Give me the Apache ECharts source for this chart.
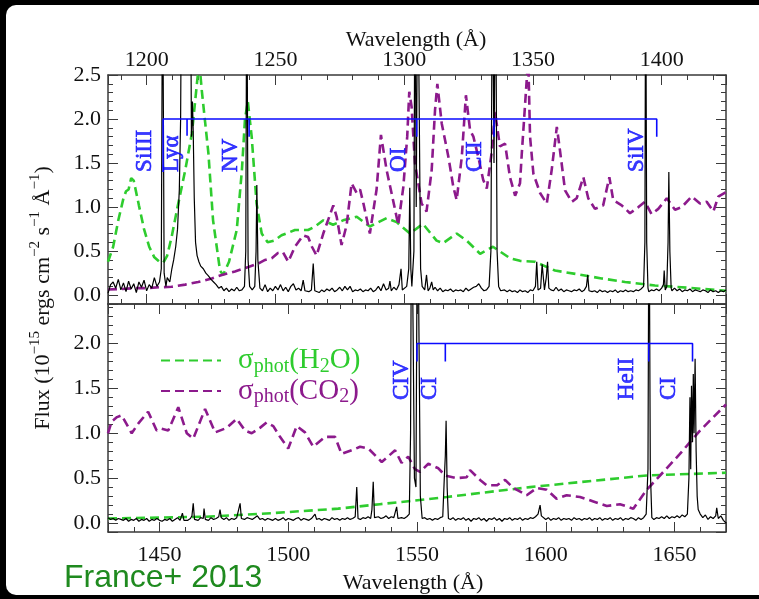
<!DOCTYPE html>
<html><head><meta charset="utf-8">
<script src="https://cdn.jsdelivr.net/npm/echarts@6/dist/echarts.min.js"></script>
<style>
html,body{margin:0;padding:0;background:#000;width:759px;height:599px;overflow:hidden}
#bg{position:absolute;left:6px;top:5px;width:753px;height:590px;background:#fff;border-radius:10px 0 0 10px}
#c{position:absolute;left:0;top:0;width:759px;height:599px}
</style></head><body><div id="bg"></div><div id="c"></div>
<script>
// ---------- axis ranges ----------
const upperX = [1185, 1425];
const lowerX = [1430, 1670];
const upperY = [-0.1, 2.5];
const lowerY = [-0.1, 2.44];

// ---------- upper panel: observed flux (wavelength, flux) ----------
const fluxUpper = [
[1185,0.02],[1186,0.12],[1187,0.15],[1188,0.08],[1189,0.18],[1190,0.06],[1191,0.14],[1192,0.04],[1193,0.16],[1194,0.07],
[1195,0.13],[1196,0.03],[1197,0.15],[1198,0.09],[1199,0.17],[1200,0.05],[1201,0.12],[1202,0.08],[1203,0.2],[1204,0.1],
[1205,0.15],[1205.7,0.3],[1206.2,4],[1206.8,0.25],[1207.5,0.1],[1208,0.2],[1209,0.15],[1209.8,0.3],[1210.5,0.4],[1211.3,0.55],
[1212,0.75],[1212.7,1.2],[1213.2,2.0],[1213.6,4],[1214.5,6],[1216,6],[1217.0,4],[1217.4,1.8],[1217.8,2.2],[1218.1,1.85],
[1218.5,1.1],[1219,0.6],[1219.6,0.45],[1220.3,0.38],[1221,0.33],[1222,0.3],[1223,0.25],[1224,0.22],[1225,0.18],[1226,0.15],
[1227,0.12],[1228,0.08],[1229,0.1],[1230,0.05],[1231,0.08],[1232,0.04],[1233,0.07],[1234,0.05],[1235,0.09],[1236,0.05],
[1237,0.06],[1238,0.1],[1238.5,0.5],[1238.9,4],[1239.4,0.4],[1240,0.1],[1241,0.06],[1242,0.1],[1242.5,0.5],[1242.8,1.25],
[1243.2,0.4],[1244,0.08],[1245,0.05],[1246,0.12],[1247,0.04],[1248,0.08],[1249,0.05],[1250,0.1],[1251,0.06],[1252,0.12],
[1253,0.05],[1254,0.09],[1255,0.04],[1256,0.1],[1257,0.13],[1258,0.06],[1259,0.08],[1260,0.05],[1260.8,0.17],[1261.5,0.05],
[1262,0.07],[1263,0.04],[1264,0.06],[1264.7,0.36],[1265.3,0.05],[1266,0.07],[1267,0.03],[1268,0.06],[1269,0.04],[1270,0.07],
[1271,0.05],[1272,0.08],[1273,0.04],[1274,0.06],[1275,0.09],[1276,0.05],[1277,0.1],[1278,0.06],[1279,0.1],[1280,0.04],
[1281,0.06],[1282,0.05],[1283,0.07],[1284,0.04],[1285,0.06],[1286,0.05],[1287,0.08],[1288,0.04],[1289,0.06],[1290,0.1],
[1291,0.05],[1292,0.13],[1293,0.06],[1294,0.08],[1294.5,0.16],[1295,0.05],[1296,0.09],[1297,0.06],[1298,0.12],[1298.8,0.3],
[1299.3,0.06],[1300,0.08],[1301,0.1],[1301.8,0.3],[1302.2,1.22],[1302.6,0.3],[1303,0.1],[1303.8,0.5],[1304.2,4],[1304.7,1],
[1305.3,4],[1305.9,4],[1306.4,0.3],[1307,0.1],[1308,0.06],[1308.7,0.23],[1309.3,0.05],[1310,0.08],[1310.7,0.15],[1311.3,0.06],
[1312,0.09],[1313,0.05],[1314,0.08],[1315,0.04],[1316,0.06],[1317,0.05],[1318,0.07],[1319,0.04],[1320,0.06],[1321,0.05],
[1322,0.06],[1323,0.04],[1324,0.08],[1325,0.05],[1326,0.07],[1327,0.09],[1328,0.1],[1329,0.13],[1330,0.08],[1331,0.05],
[1332,0.06],[1333,0.1],[1333.7,0.5],[1334.3,4],[1334.9,1.5],[1335.5,4],[1336.1,0.5],[1336.7,0.1],[1337.5,0.05],[1338,0.03],
[1339,0.06],[1340,0.04],[1341,0.06],[1342,0.04],[1343,0.05],[1344,0.03],[1345,0.06],[1346,0.04],[1347,0.05],[1348,0.03],
[1349,0.06],[1350,0.05],[1351,0.1],[1351.5,0.38],[1352,0.06],[1353,0.08],[1353.6,0.35],[1354,0.37],[1354.5,0.06],[1355.2,0.2],
[1355.7,0.38],[1356.2,0.08],[1357,0.06],[1358,0.05],[1359,0.09],[1360,0.05],[1361,0.07],[1362,0.04],[1363,0.06],[1364,0.05],
[1365,0.04],[1366,0.06],[1367,0.05],[1368,0.07],[1369,0.04],[1370,0.06],[1370.8,0.1],[1371.3,0.23],[1371.8,0.05],[1372,0.06],
[1373,0.04],[1374,0.05],[1375,0.03],[1376,0.06],[1377,0.04],[1378,0.05],[1379,0.03],[1380,0.05],[1381,0.04],[1382,0.06],
[1383,0.03],[1384,0.05],[1385,0.04],[1386,0.06],[1387,0.04],[1388,0.05],[1389,0.04],[1390,0.06],[1391,0.05],[1392,0.07],
[1393,0.1],[1393.5,0.6],[1393.8,4],[1394.2,0.6],[1394.7,0.08],[1395,0.04],[1396,0.06],[1397,0.05],[1398,0.07],[1399,0.05],
[1400,0.08],[1400.7,0.12],[1401,0.28],[1401.4,0.06],[1402,0.1],[1402.5,0.6],[1402.8,1.4],[1403.2,0.5],[1403.7,0.08],[1404,0.05],
[1405,0.08],[1406,0.05],[1407,0.07],[1408,0.04],[1409,0.06],[1410,0.05],[1411,0.07],[1412,0.04],[1413,0.06],[1414,0.05],
[1415,0.04],[1416,0.06],[1417,0.05],[1418,0.03],[1419,0.06],[1420,0.04],[1421,0.05],[1422,0.03],[1423,0.05],[1424,0.04],[1425,0.06]
];

// ---------- upper panel: sigma_phot(H2O) ----------
const h2oUpper = [
[1185,0.38],[1187,0.55],[1189,0.85],[1191,1.1],[1192,1.18],[1193,1.2],[1194,1.33],[1195,1.3],[1197,1.02],[1199,0.75],
[1201,0.55],[1203,0.43],[1205,0.38],[1206.5,0.37],[1208,0.45],[1209.7,0.66],[1212,1.0],[1215,1.42],[1217.6,1.84],[1219.8,2.48],
[1220.6,2.6],[1221.4,2.33],[1224,1.61],[1225.8,0.85],[1228.5,0.28],[1229.7,0.23],[1232,0.38],[1235,0.74],[1237,1.42],[1238.2,2.0],
[1239.3,2.2],[1240.8,1.8],[1242.7,1.04],[1244.7,0.7],[1247,0.6],[1249.5,0.62],[1252.4,0.68],[1257.6,0.74],[1262.7,0.74],[1265.4,0.78],
[1268.6,0.85],[1272.4,0.8],[1276.3,0.85],[1281.6,0.89],[1286.7,0.78],[1293.2,0.875],[1297.1,0.83],[1302.3,0.7],[1307.3,0.81],[1312.6,0.62],
[1315.1,0.59],[1320.4,0.7],[1324.3,0.62],[1329.5,0.47],[1334.5,0.55],[1341.1,0.42],[1345,0.39],[1350.8,0.38],[1358.6,0.28],[1369,0.23],
[1376.7,0.19],[1385.8,0.15],[1397.4,0.11],[1407.8,0.09],[1420.7,0.06],[1425,0.05]
];

// ---------- upper panel: sigma_phot(CO2) ----------
const co2Upper = [
[1185,0.065],[1190,0.07],[1195,0.08],[1200,0.08],[1205,0.09],[1209.7,0.095],[1215,0.12],[1220,0.15],[1225.3,0.19],[1229.2,0.23],
[1234.3,0.27],[1239.5,0.32],[1243.4,0.36],[1246,0.4],[1248.6,0.42],[1251,0.48],[1252.9,0.49],[1255,0.38],[1257.6,0.55],[1260.8,0.68],
[1262.7,0.66],[1264.2,0.55],[1266,0.45],[1268.6,0.7],[1272.5,1.02],[1273.8,0.89],[1275.7,0.57],[1277.7,0.8],[1279.6,1.27],[1281.6,1.16],
[1282.9,1.2],[1284.2,1.04],[1286.7,0.7],[1289.3,1.2],[1291,1.82],[1293.2,1.42],[1296.5,0.97],[1297.7,0.8],[1299.7,1.23],[1301.2,1.8],
[1302,2.31],[1302.9,2.14],[1304.2,1.5],[1306.8,1.04],[1308.7,0.95],[1310.7,1.42],[1312,2.1],[1312.9,2.4],[1314.6,1.95],[1317.2,1.57],
[1319.1,1.23],[1320.4,1.08],[1322.4,1.57],[1324,2.27],[1325.6,1.875],[1326.9,1.8],[1328.8,1.57],[1330.7,1.31],[1332.1,1.21],[1334,1.62],
[1335.3,2.08],[1337.2,1.69],[1339.2,1.72],[1341.1,1.34],[1343.1,1.13],[1345,1.27],[1345.7,1.61],[1347.6,2.44],[1348.2,2.7],[1348.9,1.8],
[1350.2,1.38],[1352.8,1.16],[1355.4,1.04],[1357.3,1.42],[1359.3,1.91],[1360.5,1.65],[1362.5,1.19],[1365.1,1.06],[1367,1.1],[1369.6,1.34],
[1371.5,1.1],[1374.1,0.98],[1377.3,1.02],[1379.7,1.34],[1381.2,1.08],[1384.5,1.02],[1387.7,0.93],[1391,1.0],[1393.5,1.06],[1396.1,0.92],
[1398.7,0.98],[1402,1.1],[1405.2,0.97],[1407.8,1.0],[1411.7,1.12],[1414.9,1.04],[1417.5,1.06],[1420.1,0.95],[1422,1.12],[1425,1.17]
];

// ---------- lower panel: observed flux ----------
const fluxLower = [
[1430,0.06],[1431,0.04],[1432,0.05],[1433,0.03],[1434,0.05],[1435,0.04],[1436,0.03],[1437,0.05],[1438,0.02],[1439,0.04],
[1440,0.03],[1441,0.05],[1442,0.02],[1443,0.04],[1444,0.03],[1445,0.05],[1446,0.02],[1447,0.04],[1448,0.03],[1449,0.05],
[1450,0.03],[1451,0.02],[1452,0.04],[1453,0.03],[1454,0.05],[1455,0.02],[1456,0.04],[1457,0.06],[1458,0.03],[1458.9,0.11],
[1459.5,0.03],[1460,0.05],[1461,0.03],[1462,0.05],[1462.6,0.08],[1463.1,0.22],[1463.6,0.04],[1464,0.05],[1465,0.03],[1466,0.06],
[1467,0.05],[1467.3,0.16],[1467.8,0.04],[1468,0.05],[1469,0.03],[1470,0.06],[1471,0.04],[1472,0.05],[1473,0.07],[1473.5,0.15],
[1474,0.06],[1475,0.04],[1476,0.06],[1477,0.03],[1478,0.05],[1479,0.04],[1480,0.06],[1481.3,0.22],[1481.8,0.05],[1482,0.06],
[1483,0.04],[1484,0.06],[1485,0.05],[1486,0.04],[1487,0.06],[1488,0.08],[1489,0.04],[1490,0.05],[1491,0.03],[1492,0.05],
[1493,0.04],[1494,0.03],[1495,0.05],[1496,0.03],[1497,0.04],[1498,0.06],[1499,0.03],[1500,0.05],[1501,0.04],[1502,0.03],
[1503,0.05],[1504,0.06],[1505,0.03],[1506,0.05],[1507,0.04],[1508,0.03],[1509,0.05],[1510.4,0.1],[1511,0.04],[1512,0.05],
[1513,0.03],[1514,0.05],[1515,0.04],[1516,0.03],[1517,0.06],[1518,0.04],[1519,0.05],[1520,0.03],[1521,0.05],[1522,0.04],
[1523,0.06],[1524,0.04],[1525,0.05],[1526,0.07],[1526.6,0.4],[1527.1,0.05],[1528,0.04],[1529,0.06],[1530,0.05],[1531,0.07],
[1532,0.05],[1532.5,0.15],[1533,0.46],[1533.5,0.06],[1534,0.05],[1535,0.07],[1536,0.05],[1537,0.06],[1538,0.08],[1539,0.05],
[1540,0.07],[1541,0.06],[1542.1,0.18],[1542.6,0.05],[1543,0.04],[1544,0.06],[1545,0.05],[1546,0.07],[1547,0.1],[1547.5,1.0],
[1547.9,4],[1548.5,4],[1549.0,0.5],[1549.6,0.4],[1550.2,4],[1550.8,4],[1551.3,0.3],[1552,0.05],[1553,0.06],[1554,0.04],
[1555,0.05],[1556,0.03],[1557,0.05],[1558,0.04],[1559,0.06],[1560,0.07],[1560.6,0.5],[1561,0.75],[1561.3,1.14],[1561.7,0.4],
[1562.2,0.05],[1563,0.04],[1564,0.06],[1565,0.03],[1566,0.05],[1567,0.04],[1568,0.06],[1569,0.03],[1570,0.05],[1571,0.02],
[1572,0.05],[1573,0.04],[1574,0.06],[1575,0.03],[1576,0.05],[1577,0.02],[1578,0.05],[1579,0.04],[1580,0.06],[1581,0.03],
[1582,0.05],[1583,0.02],[1584,0.05],[1585,0.04],[1586,0.06],[1587,0.03],[1588,0.05],[1589,0.04],[1590,0.06],[1591,0.03],
[1592,0.05],[1593,0.04],[1594,0.06],[1595,0.05],[1596,0.07],[1597,0.1],[1597.8,0.2],[1598.3,0.08],[1599,0.06],[1600,0.04],
[1601,0.06],[1602,0.03],[1603,0.05],[1604,0.04],[1605,0.06],[1606,0.03],[1607,0.05],[1608,0.04],[1609,0.05],[1610,0.03],
[1611,0.06],[1612,0.04],[1613,0.05],[1614,0.03],[1615,0.05],[1616,0.04],[1617,0.06],[1618,0.03],[1619,0.05],[1620,0.04],
[1621,0.06],[1622,0.03],[1623,0.05],[1624,0.04],[1625,0.06],[1626,0.03],[1627,0.05],[1628,0.04],[1629,0.06],[1630,0.03],
[1631,0.05],[1632,0.04],[1633,0.06],[1634,0.05],[1635,0.03],[1636,0.06],[1637,0.04],[1638,0.06],[1639,0.1],[1639.7,0.6],
[1640.1,4],[1640.6,0.6],[1641.2,0.06],[1642,0.04],[1643,0.06],[1644,0.05],[1645,0.07],[1646,0.05],[1647,0.08],[1648,0.05],
[1649,0.07],[1650,0.06],[1651,0.08],[1652,0.06],[1653,0.09],[1654,0.07],[1655,0.1],[1655.6,0.5],[1656.0,1.4],[1656.3,0.6],
[1656.6,1.53],[1657.0,0.9],[1657.3,1.66],[1657.6,1.0],[1658.0,1.83],[1658.4,0.8],[1658.8,0.3],[1659.2,0.15],[1660,0.1],[1661,0.06],
[1662,0.09],[1663,0.04],[1664,0.07],[1665,0.05],[1666,0.08],[1666.4,0.17],[1667,0.05],[1668,0.08],[1669,0.03],[1670,0.0]
];

// ---------- lower panel: sigma_phot(H2O) ----------
const h2oLower = [
[1430,0.05],[1467.7,0.07],[1493.6,0.11],[1519.4,0.16],[1535.6,0.21],[1549.2,0.25],[1561.5,0.29],[1593.9,0.4],[1639.2,0.53],[1670,0.56]
];

// ---------- lower panel: sigma_phot(CO2) ----------
const co2Lower = [
[1430,1.0],[1431.4,1.13],[1433.5,1.18],[1435.3,1.2],[1439.2,1.0],[1441.8,1.11],[1445.6,1.24],[1448.9,1.03],[1450.8,1.05],[1453.4,1.03],
[1457.3,1.29],[1460.6,1.0],[1463.1,0.94],[1467.7,1.27],[1471.6,1.01],[1476.1,1.06],[1480,1.16],[1483.2,1.03],[1485.8,1.0],[1489,1.06],
[1491.6,1.12],[1494.2,1.08],[1496.8,0.96],[1500,0.83],[1503.3,1.08],[1506.5,1.01],[1509.7,0.85],[1514.3,0.96],[1518.2,0.96],[1520.7,0.77],
[1524.6,0.81],[1527.9,0.85],[1531.1,0.83],[1536.3,0.68],[1541.5,0.81],[1544,0.67],[1546.6,0.74],[1549.2,0.6],[1551.2,0.57],[1554.4,0.66],
[1558.3,0.61],[1560.9,0.53],[1565.4,0.5],[1569.3,0.51],[1570.6,0.59],[1574.5,0.48],[1577.1,0.42],[1581,0.42],[1584.2,0.48],[1587.4,0.39],
[1592.6,0.31],[1596.5,0.39],[1600.4,0.37],[1604.2,0.27],[1608.1,0.31],[1613.3,0.29],[1618.5,0.24],[1623.7,0.19],[1628.8,0.21],[1634,0.16],
[1639.2,0.37],[1645.7,0.57],[1652.1,0.77],[1659.9,1.03],[1670,1.32]
];

// ---------- line identifications ----------
const bracketUpper = [[1206.4,1.4],[1206.4,2.0],[1215.7,2.0],[1215.7,1.81],[1215.7,2.0],[1239.8,2.0],[1239.8,1.8],[1239.8,2.0],
  [1304.9,2.0],[1304.9,1.8],[1304.9,2.0],[1334.9,2.0],[1334.9,1.8],[1334.9,2.0],[1398.1,2.0],[1398.1,1.8]];
const bracketLower = [[1550,1.8],[1550,2.0],[1561,2.0],[1561,1.8],[1561,2.0],[1640,2.0],[1640,1.8],[1640,2.0],[1657,2.0],[1657,1.8]];
const labelsUpper = [
  {name:'SiIII', value:[1199.4,1.4]}, {name:'Lyα', value:[1209.9,1.4]}, {name:'NV', value:[1232.6,1.4]},
  {name:'OI', value:[1298,1.4]}, {name:'CII', value:[1327.5,1.4]}, {name:'SiIV', value:[1390.6,1.4]}];
const labelsLower = [
  {name:'CIV', value:[1544,1.37]}, {name:'CI', value:[1555,1.37]}, {name:'HeII', value:[1631.6,1.37]}, {name:'CI', value:[1648,1.37]}];

const SERIF = '"Liberation Serif", "Times New Roman", serif';
const FRAME = '#3a3a3a';
const GREEN = '#2ecc2e';
const PURPLE = '#8c1a8c';
const BLUE = '#0a0aff';

function xAxis(grid, range, pos, labels, margin) {
  return {
    type:'value', gridIndex:grid, position:pos, min:range[0], max:range[1], splitNumber:5,
    axisLine:{show:true, onZero:false, lineStyle:{color:FRAME, width:1.5}},
    axisTick:{show:true, inside:true, length:10, lineStyle:{color:FRAME, width:1}},
    minorTick:{show:true, splitNumber:5, length:5, lineStyle:{color:FRAME, width:1}},
    splitLine:{show:false},
    axisLabel:{show:labels, margin:margin, fontFamily:SERIF, fontSize:22, color:'#111', showMinLabel:false, showMaxLabel:false,
      formatter: v => String(v)}
  };
}
function yAxis(grid, range, pos, labels, showMax) {
  return {
    type:'value', gridIndex:grid, position:pos, min:range[0], max:range[1], splitNumber:5,
    axisLine:{show:true, onZero:false, lineStyle:{color:FRAME, width:1.5}},
    axisTick:{show:true, inside:true, length:10, lineStyle:{color:FRAME, width:1}},
    minorTick:{show:true, splitNumber:5, length:5, lineStyle:{color:FRAME, width:1}},
    splitLine:{show:false},
    axisLabel:{show:labels, margin:7, fontFamily:SERIF, fontSize:22, color:'#111', showMinLabel:false, showMaxLabel:showMax,
      formatter: v => v.toFixed(1)}
  };
}
function spec(data, xi, yi) {
  return {type:'line', xAxisIndex:xi, yAxisIndex:yi, data:data, symbol:'none', clip:true, z:3,
    lineStyle:{color:'#000', width:1.2}, itemStyle:{color:'#000'}};
}
function dashed(name, color, data, xi, yi) {
  return {type:'line', name:name, xAxisIndex:xi, yAxisIndex:yi, data:data, symbol:'none', clip:true, z:2,
    lineStyle:{color:color, width:2.6, type:[9,5]}, itemStyle:{color:color}};
}
function bracket(data, xi, yi) {
  return {type:'line', xAxisIndex:xi, yAxisIndex:yi, data:data, symbol:'none', z:4,
    lineStyle:{color:BLUE, width:1.6}};
}
function idLabels(data, xi, yi) {
  return {type:'scatter', xAxisIndex:xi, yAxisIndex:yi, data:data, symbolSize:2, itemStyle:{color:'rgba(0,0,0,0)'}, z:5,
    label:{show:true, position:[1,1], rotate:90, align:'left', verticalAlign:'middle', formatter:'{b}',
      fontFamily:SERIF, fontSize:23, color:BLUE, textBorderColor:BLUE, textBorderWidth:0.7}};
}

const chart = echarts.init(document.getElementById('c'), null, {renderer:'canvas'});
chart.setOption({
  animation:false,
  grid:[
    {left:108, top:75, width:618, height:229},
    {left:108, top:304, width:618, height:228}
  ],
  xAxis:[
    xAxis(0, upperX, 'top', true, 4),
    xAxis(0, upperX, 'bottom', false, 4),
    xAxis(1, lowerX, 'bottom', true, 12),
    xAxis(1, lowerX, 'top', false, 4)
  ],
  yAxis:[
    yAxis(0, upperY, 'left', true, true),
    yAxis(0, upperY, 'right', false, false),
    yAxis(1, lowerY, 'left', true, false),
    yAxis(1, lowerY, 'right', false, false)
  ],
  legend:{
    data:['H2O','CO2'], orient:'vertical', left:155, top:341, itemWidth:60, itemHeight:12, itemGap:0,
    selectedMode:false, itemStyle:{opacity:0},
    formatter: n => n === 'H2O' ? '{g|σ}{gs|phot}{g|(H}{gs|2}{g|O)}' : '{p|σ}{ps|phot}{p|(CO}{ps|2}{p|)}',
    textStyle:{padding:[0,0,0,12], rich:{
      g:{fontFamily:SERIF, fontSize:29, color:GREEN, lineHeight:32},
      gs:{fontFamily:SERIF, fontSize:20, color:GREEN, lineHeight:16, verticalAlign:'bottom'},
      p:{fontFamily:SERIF, fontSize:29, color:PURPLE, lineHeight:32},
      ps:{fontFamily:SERIF, fontSize:20, color:PURPLE, lineHeight:16, verticalAlign:'bottom'}
    }}
  },
  graphic:[
    {type:'text', x:416, y:40, style:{text:'Wavelength (Å)', font:'22px '+SERIF, fill:'#111', align:'center', verticalAlign:'middle', textAlign:'center', textVerticalAlign:'middle'}},
    {type:'text', x:413, y:583, style:{text:'Wavelength (Å)', font:'22px '+SERIF, fill:'#111', align:'center', verticalAlign:'middle', textAlign:'center', textVerticalAlign:'middle'}},
    {type:'text', x:43, y:298, rotation:Math.PI/2, style:{
      text:'{m|Flux (10}{s|−15}{m| ergs cm}{s|−2}{m| s}{s|−1}{m| Å}{s|−1}{m|)}',
      align:'center', verticalAlign:'middle', textAlign:'center', textVerticalAlign:'middle',
      rich:{m:{fontFamily:SERIF, fontSize:22, fill:'#111', color:'#111', lineHeight:30},
            s:{fontFamily:SERIF, fontSize:15, fill:'#111', color:'#111', lineHeight:16, verticalAlign:'top'}}}},
    {type:'text', x:64, y:578, style:{text:'France+ 2013', font:'32px "Liberation Sans", Arial, sans-serif', fill:'#1f8a1f', align:'left', verticalAlign:'middle', textAlign:'left', textVerticalAlign:'middle'}}
  ],
  series:[
    dashed('H2O', GREEN, h2oUpper, 0, 0),
    dashed('CO2', PURPLE, co2Upper, 0, 0),
    spec(fluxUpper, 0, 0),
    dashed('H2O', GREEN, h2oLower, 2, 2),
    dashed('CO2', PURPLE, co2Lower, 2, 2),
    spec(fluxLower, 2, 2),
    bracket(bracketUpper, 0, 0),
    bracket(bracketLower, 2, 2),
    idLabels(labelsUpper, 0, 0),
    idLabels(labelsLower, 2, 2)
  ]
});
</script></body></html>
